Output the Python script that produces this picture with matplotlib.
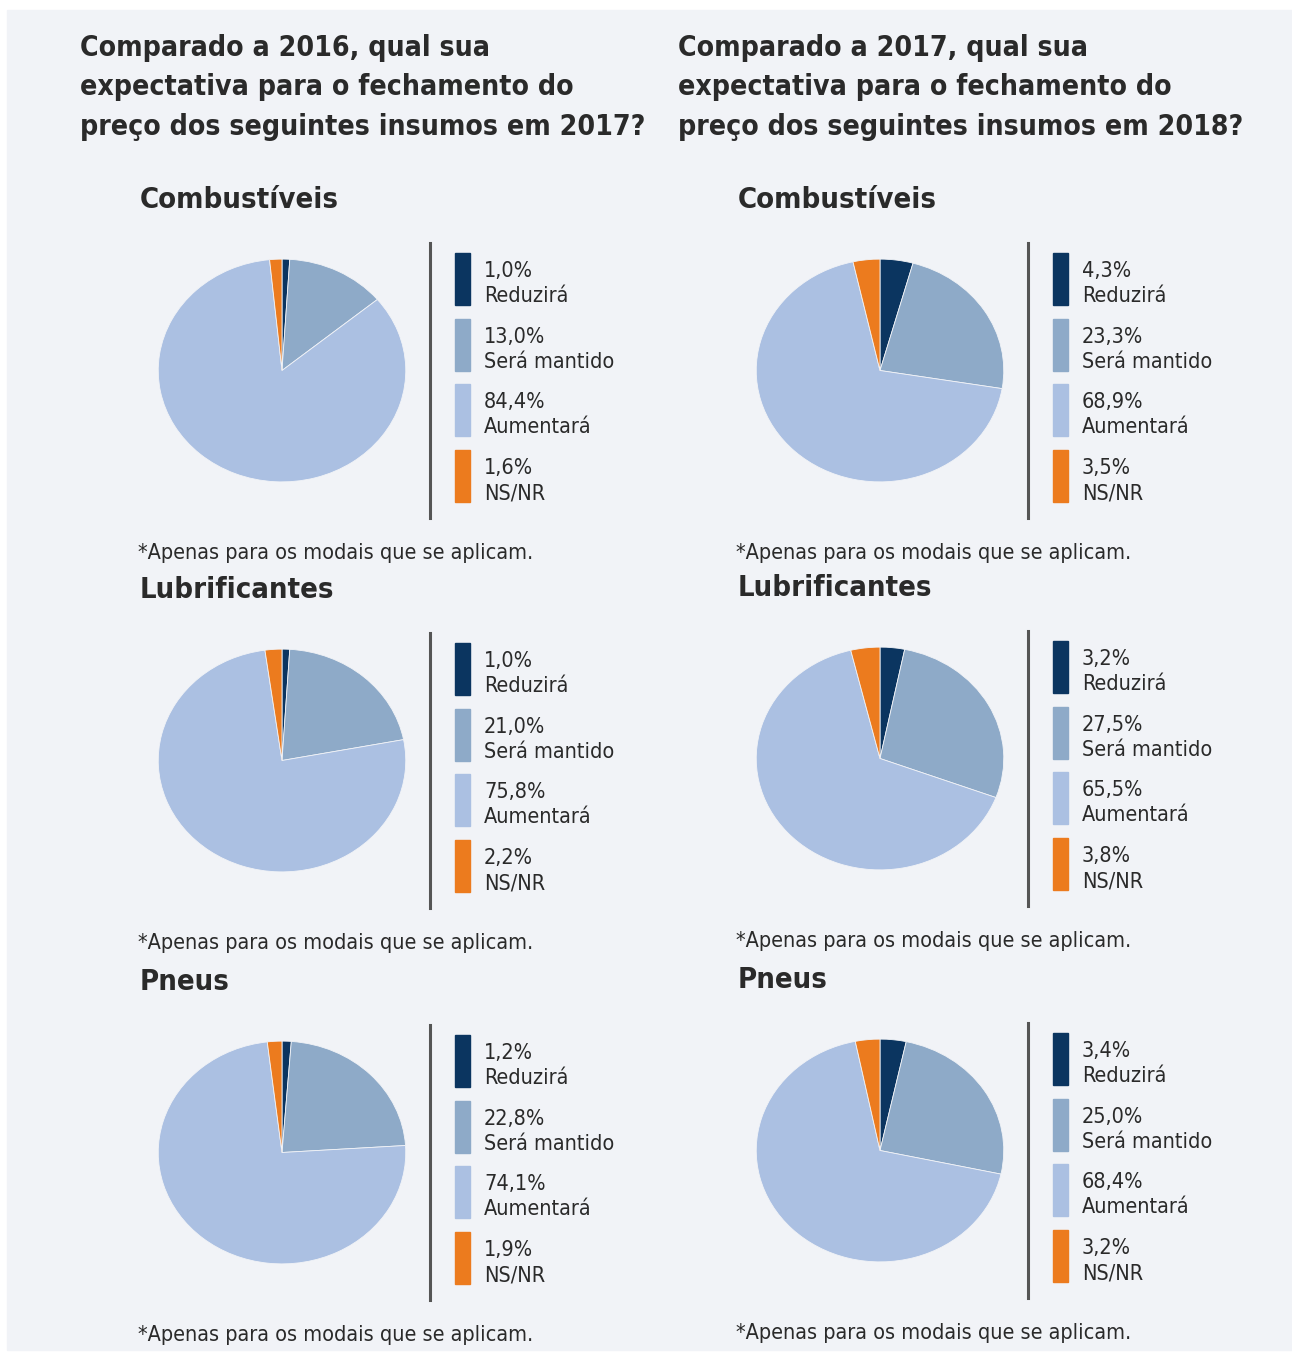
import matplotlib.pyplot as plt
from matplotlib.patches import Rectangle

# ---------------- data ----------------
categories = ["Reduzirá", "Será mantido", "Aumentará", "NS/NR"]
colors = ["#0b3560", "#8eaac8", "#abc0e2", "#ec7b1e"]

titles = ["Comparado a 2016, qual sua\nexpectativa para o fechamento do\npreço dos seguintes insumos em 2017?",
          "Comparado a 2017, qual sua\nexpectativa para o fechamento do\npreço dos seguintes insumos em 2018?"]
insumos = ["Combustíveis", "Lubrificantes", "Pneus"]

# 2017 vs 2016 (left column)
comb_2017 = [1.0, 13.0, 84.4, 1.6]
lubr_2017 = [1.0, 21.0, 75.8, 2.2]
pneu_2017 = [1.2, 22.8, 74.1, 1.9]
# 2018 vs 2017 (right column)
comb_2018 = [4.3, 23.3, 68.9, 3.5]
lubr_2018 = [3.2, 27.5, 65.5, 3.8]
pneu_2018 = [3.4, 25.0, 68.4, 3.2]

footnote = "*Apenas para os modais que se aplicam."

# ---------------- layout ----------------
W, H = 1292, 1355
fig = plt.figure(figsize=(W / 100, H / 100), dpi=100, facecolor="white")
font = ["DejaVu Sans"]
stretch = "condensed"
txt_col = "#2a2a2a"

# full-figure overlay axes in pixel coordinates
bg = fig.add_axes([0, 0, 1, 1])
bg.set_xlim(0, W)
bg.set_ylim(H, 0)
bg.axis("off")
bg.add_patch(Rectangle((7, 10), W - 7, 1340, color="#f1f3f7", zorder=0))


def px_axes(x0, y0, w, h):
    return fig.add_axes([x0 / W, 1 - (y0 + h) / H, w / W, h / H])


col_x = [0, 598]
row_y = [0, 390, 782]
data = [[comb_2017, lubr_2017, pneu_2017],
        [comb_2018, lubr_2018, pneu_2018]]

for c in range(2):
    dx = col_x[c]
    bg.text(80 + dx, 34, titles[c], family=font, stretch=stretch, fontsize=20.3,
            fontweight="bold", color=txt_col, va="top", ha="left", linespacing=1.52)
    for r in range(3):
        dy = row_y[r] - (2 if (c == 1 and r > 0) else 0)
        vals = data[c][r]

        bg.text(140 + dx, 200 + dy, insumos[r], family=font, stretch=stretch, fontsize=21,
                fontweight="bold", color=txt_col, va="center", ha="left")

        # pie (slightly elliptical as in the original)
        ax = px_axes(157 + dx, 258 + dy, 250, 225)
        ax.pie(vals, colors=colors, startangle=90, counterclock=False,
               wedgeprops=dict(linewidth=0.6, edgecolor="#f1f3f7"))
        ax.set_aspect("auto")
        ax.set_xlim(-1.01, 1.01)
        ax.set_ylim(-1.01, 1.01)

        # legend
        bg.plot([430 + dx, 430 + dx], [243 + dy, 518 + dy], color="#555555", lw=2.2)
        for i, (cat, v) in enumerate(zip(categories, vals)):
            y0 = 253 + dy + i * 65.7
            bg.add_patch(Rectangle((455 + dx, y0), 15, 52, color=colors[i]))
            bg.text(484 + dx, y0 + 18, f"{v:.1f}%".replace(".", ","), family=font,
                    stretch=stretch, fontsize=15.5, color=txt_col, va="center", ha="left")
            bg.text(484 + dx, y0 + 43, cat, family=font, stretch=stretch, fontsize=15.5,
                    color=txt_col, va="center", ha="left")

        bg.text(138 + dx, 553 + dy, footnote, family=font, stretch=stretch, fontsize=15.5,
                color=txt_col, va="center", ha="left")

fig.savefig("out.png", dpi=100, facecolor="white")
